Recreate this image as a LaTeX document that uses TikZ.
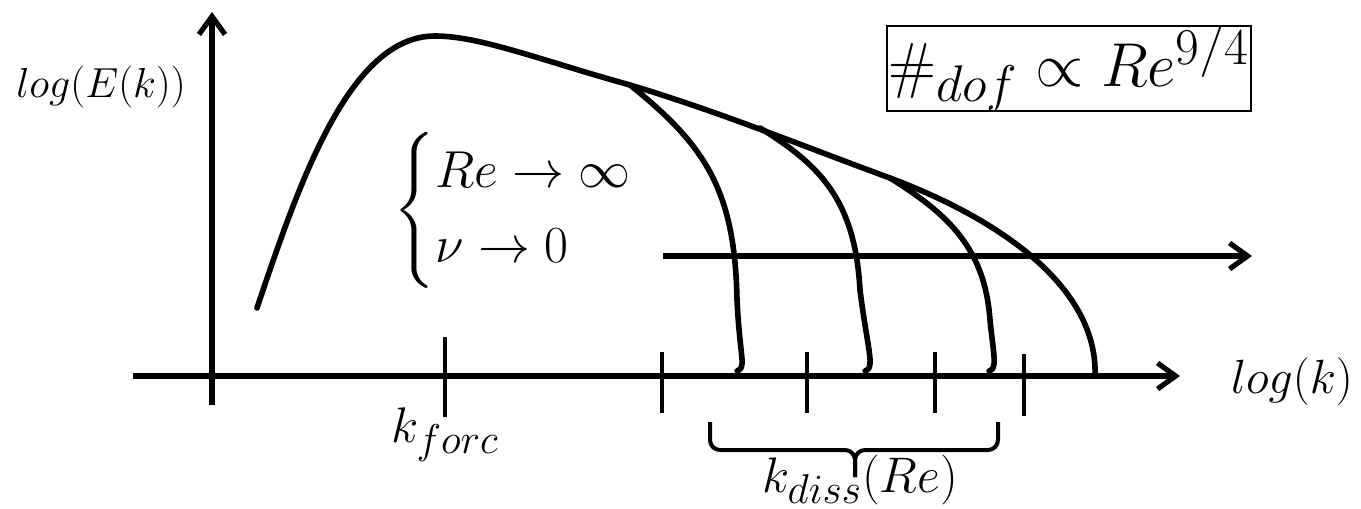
\RequirePackage{fix-cm}
\documentclass[tikz,border=0pt]{standalone}
\usepackage{amsmath,amssymb}
\usetikzlibrary{arrows.meta,decorations.pathreplacing,positioning}
\DeclareMathSizes{21}{21}{17.4}{14}
\DeclareMathSizes{24}{24}{20}{16.6}
\DeclareMathSizes{25}{25}{20.8}{17.3}
\DeclareMathSizes{26}{26}{21.6}{18}
\DeclareMathSizes{31}{31}{25.8}{21.5}

\begin{document}
\begin{tikzpicture}[x=0.5pt,y=-0.5pt,
  axis/.style={line width=2.6pt,-{Straight Barb[length=9pt,width=13pt]}},
  spec/.style={line width=2.8pt,line cap=round},
  tickmark/.style={line width=2pt},
  bracket/.style={line width=2pt,rounded corners=5pt},
  lbl/.style={inner sep=0pt,anchor=base}]
\useasboundingbox (0,0) rectangle (1361,509);

% axes
\coordinate (ybot) at (212,405);
\coordinate (ytop) at (212,12);
\coordinate (xleft) at (133,376);
\coordinate (xright) at (1180,376);
\draw[axis] (ybot) -- (ytop);
\draw[axis] (xleft) -- (xright);

% ticks
\foreach \x/\a/\b in {445/337/417,662/352/413,807/352/413,935/352/413,1024/354/416}
  \draw[tickmark] (\x,\a) -- (\x,\b);

% spectrum and its cut-offs
\draw[spec] (257,308) .. controls (300,180) and (350,36) .. (435,36)
  .. controls (480,36) and (540,60) .. (630,85)
  .. controls (720,112) and (800,145) .. (890,178)
  .. controls (1015,225) and (1098,295) .. (1095,376);
\draw[spec] (630,85) .. controls (705,145) and (735,190) .. (737,300)
  .. controls (739,340) and (743,360) .. (742,364) .. controls (741,369) .. (737,371);
\draw[spec] (760,128) .. controls (820,165) and (855,200) .. (860,290)
  .. controls (865,330) and (871,355) .. (870,364) .. controls (869,369) .. (865,371);
\draw[spec] (890,178) .. controls (950,215) and (985,250) .. (990,320)
  .. controls (992,340) and (995,358) .. (994,364) .. controls (993,369) .. (989,371);

% increasing Re
\coordinate (rstart) at (663,256);
\coordinate (rend) at (1252,256);
\draw[axis] (rstart) -- (rend);

% dissipation range
\coordinate (bl) at (710,422);
\coordinate (br) at (998,422);
\coordinate (bmid) at (855,450);
\coordinate (btip) at (855,477);
\draw[bracket] (bl) |- (bmid) -- (btip);
\draw[bracket] (br) |- (bmid) -- (btip);

% labels
\node[lbl,font=\fontsize{21}{25}\selectfont] (elab) at (101,97) {$log(E(k))$};
\node[lbl,font=\fontsize{24}{29}\selectfont] (klab) at (1292,393) {$log(k)$};
\node[lbl,font=\fontsize{25}{30}\selectfont] (kforc) at (445,442) {$k_{forc}$};
\node[lbl,font=\fontsize{25}{30}\selectfont] (kdiss) at (860,492) {$k_{diss}(Re)$};
\node[inner sep=0pt,anchor=west,font=\fontsize{26}{31}\selectfont] (lim) at (393,210) {$\begin{cases} Re\to\infty\\ \nu\to 0\end{cases}$};
\node[draw,line width=1pt,inner sep=0pt,minimum width=182pt,minimum height=40.5pt,font=\fontsize{31}{37}\selectfont] (dof) at (1069,68.5) {$\#_{dof}\propto Re^{9/4}$};

\end{tikzpicture}
\end{document}
